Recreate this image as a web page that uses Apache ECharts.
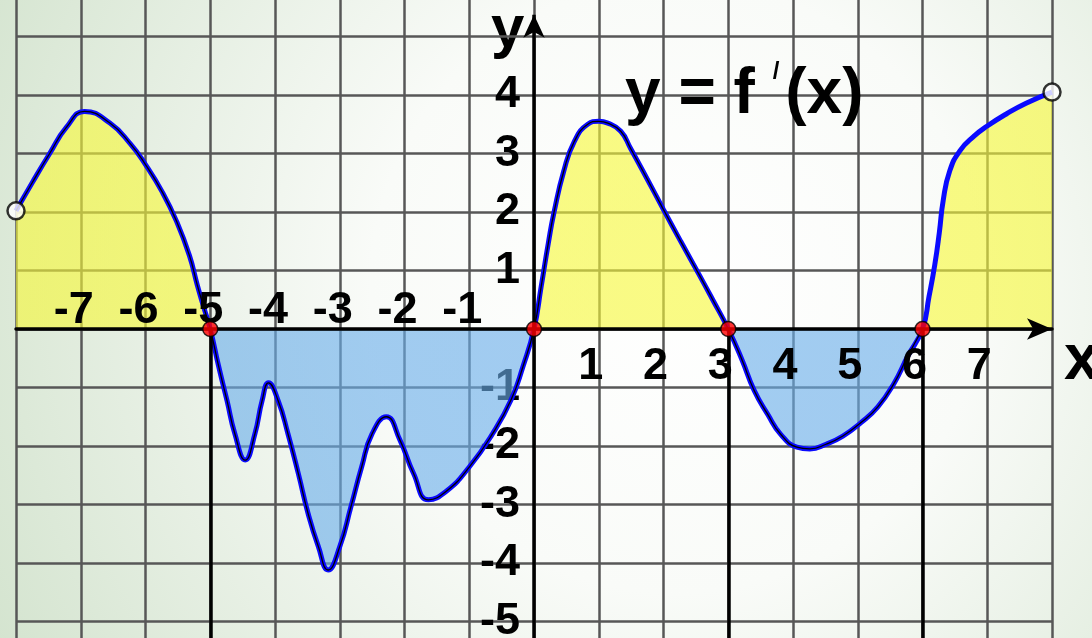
<!DOCTYPE html>
<html>
<head>
<meta charset="utf-8" />
<script type="text/javascript" src="https://cdn.jsdelivr.net/npm/echarts@6.0.0/dist/echarts.min.js"></script>
<title></title>
<style>
  html, body { margin: 0; padding: 0; }
  #main { width: 1092px; height: 638px; }
</style>
</head>
<body>
<div id="main"></div>
<script>
// curve y = f'(x)
var curveX = [-8, -7.75, -7.48, -7.22, -6.94, -6.55, -6.23, -6.0, -5.74, -5.52, -5.32, -5.2, -5.1, -5,
  -4.87, -4.74, -4.62, -4.46, -4.31, -4.2, -4.1, -3.95, -3.8, -3.64, -3.49, -3.33, -3.18, -3.0,
  -2.83, -2.66, -2.5, -2.28, -2.07, -1.86, -1.63, -1.35, -1.0, -0.64, -0.35, -0.17, 0,
  0.11, 0.22, 0.31, 0.46, 0.62, 0.83, 1.0, 1.14, 1.34, 1.49, 1.75, 2.0, 2.27, 2.55, 2.76, 3,
  3.21, 3.4, 3.61, 3.81, 4.06, 4.26, 4.51, 4.77, 5.05, 5.31, 5.56, 5.77, 6,
  6.1, 6.19, 6.26, 6.32, 6.42, 6.58, 6.8, 7.0, 7.3, 7.6, 8];
var curveY = [2.02, 2.5, 3.0, 3.45, 3.72, 3.52, 3.16, 2.81, 2.34, 1.84, 1.25, 0.75, 0.37, 0,
  -0.64, -1.23, -1.79, -2.24, -1.79, -1.23, -0.92, -1.23, -1.79, -2.47, -3.15, -3.72, -4.12, -3.72,
  -3.05, -2.35, -1.79, -1.5, -1.9, -2.47, -2.92, -2.77, -2.36, -1.79, -1.2, -0.64, 0,
  0.72, 1.46, 2.0, 2.7, 3.2, 3.5, 3.55, 3.52, 3.38, 3.09, 2.56, 2.04, 1.49, 0.93, 0.5, 0,
  -0.52, -1.05, -1.46, -1.8, -2.02, -2.05, -1.97, -1.83, -1.6, -1.33, -0.93, -0.47, 0,
  0.55, 1.1, 1.65, 2.2, 2.7, 3.05, 3.3, 3.47, 3.68, 3.86, 4.05];

// zeros of f'(x) (red points) and open end points
var zeroX = [-5, 0, 3, 6];
var zeroY = [0, 0, 0, 0];
var openX = [-8, 8];
var openY = [2.02, 4.05];

// black drop lines below the axis
var dropX = [-5, 3, 6];

// tick labels
var xNegTicks = [-7, -6, -5, -4, -3, -2, -1];
var xPosTicks = [1, 2, 3, 4, 5, 6, 7];
var yTicks = [-5, -4, -3, -2, -1, 1, 2, 3, 4];

var FONT = '"Liberation Sans", Arial, sans-serif';
var SM = 0.5;
var YELLOW = '#f6f83a';
var BLUE = '#6aaeea';

var pts = curveX.map(function (x, i) { return [x, curveY[i]]; });
var cut = curveX.indexOf(6);

var drops = dropX.map(function (x) { return [{ coord: [x, 0] }, { coord: [x, -6] }]; });
drops.push([{ coord: [0, -6], symbol: 'none' }, { coord: [0, 5.37], symbol: 'arrow', symbolSize: [16, 23] }]);

var labelStyle = { fontSize: 45, fontWeight: 'bold', fontFamily: FONT, color: '#000' };

var chart = echarts.init(document.getElementById('main'));
chart.setOption({
  animation: false,
  backgroundColor: {
    type: 'radial', x: 0.62, y: 0.45, r: 1.2,
    colorStops: [
      { offset: 0, color: '#ffffff' },
      { offset: 0.4, color: '#f9fbf8' },
      { offset: 1, color: '#d4e4cf' }
    ]
  },
  title: {
    text: '{a|y = f }{b|/}{a|(x)}',
    left: 625, top: 60, padding: 0,
    textStyle: {
      rich: {
        a: { fontSize: 64, fontWeight: 'bold', fontFamily: FONT, color: '#000', lineHeight: 70 },
        b: { fontSize: 24, fontFamily: FONT, color: '#000', verticalAlign: 'top', lineHeight: 50, padding: [0, 6, 0, 0] }
      }
    }
  },
  grid: { left: 16, right: 40, top: -22, bottom: -42, outerBoundsMode: 'none' },
  xAxis: [
    {
      type: 'value', min: -8, max: 8, interval: 1,
      axisLine: { show: false, onZero: false }, axisTick: { show: false }, axisLabel: { show: false },
      splitLine: { show: true, lineStyle: { color: '#575757', width: 2.5 } }
    },
    {
      type: 'value', min: -8, max: 8, interval: 1, position: 'bottom', z: 5,
      axisLine: { show: false, onZero: false }, axisTick: { show: false }, splitLine: { show: false },
      axisLabel: Object.assign({
        inside: true, margin: -4, padding: [0, 14, 0, 0],
        formatter: function (v) { return xNegTicks.indexOf(v) >= 0 ? String(v) : ''; }
      }, labelStyle)
    },
    {
      type: 'value', min: -8, max: 8, interval: 1, position: 'bottom', z: 5,
      axisLine: { show: true, onZero: false, symbol: ['none', 'arrow'], symbolSize: [16, 25],
        lineStyle: { color: '#000', width: 3.5 } },
      axisTick: { show: false }, splitLine: { show: false },
      axisLabel: Object.assign({
        margin: 15, padding: [0, 16, 0, 0],
        formatter: function (v) { return xPosTicks.indexOf(v) >= 0 ? String(v) : ''; }
      }, labelStyle)
    }
  ],
  yAxis: {
    type: 'value', min: -6, max: 6, interval: 1, position: 'left',
    axisLine: { show: false, onZero: false }, axisTick: { show: false },
    splitLine: { show: true, lineStyle: { color: '#575757', width: 2.5 } },
    axisLabel: Object.assign({
      margin: 14,
      formatter: function (v) { return yTicks.indexOf(v) >= 0 ? String(v) : ''; }
    }, labelStyle)
  },
  series: [
    {
      id: 'fill', type: 'line', data: pts, smooth: SM, symbol: 'none', silent: true, z: 2,
      lineStyle: { width: 0, opacity: 0 },
      areaStyle: { opacity: 0.62, origin: 0, color: YELLOW }
    },
    {
      type: 'line', data: pts, smooth: SM, symbol: 'none', silent: true, z: 3,
      lineStyle: { color: '#0a0aff', width: 5 }
    },
    {
      type: 'line', data: pts.slice(0, cut + 1), smooth: SM, symbol: 'none', silent: true, z: 4,
      lineStyle: { color: '#000', width: 1.3 }
    },
    {
      type: 'scatter', z: 10, symbol: 'circle', symbolSize: 17, silent: true,
      data: openX.map(function (x, i) { return [x, openY[i]]; }),
      itemStyle: { color: '#fff', borderColor: '#000', borderWidth: 2.5 }
    },
    {
      type: 'scatter', z: 10, symbol: 'circle', symbolSize: 15, silent: true,
      data: zeroX.map(function (x, i) { return [x, zeroY[i]]; }),
      itemStyle: { color: '#ff0000', borderColor: '#000', borderWidth: 1.5 },
      markLine: {
        silent: true, symbol: ['none', 'none'], label: { show: false },
        lineStyle: { color: '#000', width: 3.5, type: 'solid' },
        data: drops
      }
    }
  ],
  graphic: [
    { type: 'text', left: 491, top: 0, style: { text: 'y', font: 'bold 60px ' + FONT, fill: '#000' } },
    { type: 'text', left: 1064, top: 329, style: { text: 'x', font: 'bold 64px ' + FONT, fill: '#000' } }
  ]
});

// move the label axes onto the zero lines and split the fill colour at y = 0
var x0 = chart.convertToPixel({ xAxisIndex: 0 }, 0);
var xL = chart.convertToPixel({ xAxisIndex: 0 }, -8);
var y0 = chart.convertToPixel({ yAxisIndex: 0 }, 0);
var yB = chart.convertToPixel({ yAxisIndex: 0 }, -6);
var h = chart.getHeight();
var k = y0 / h;
chart.setOption({
  xAxis: [{}, { offset: -(yB - y0) }, { offset: -(yB - y0) }],
  yAxis: { offset: -(x0 - xL) },
  series: [{
    id: 'fill',
    areaStyle: {
      color: {
        type: 'linear', global: true, x: 0, y: 0, x2: 0, y2: h,
        colorStops: [
          { offset: 0, color: YELLOW }, { offset: k, color: YELLOW },
          { offset: k, color: BLUE }, { offset: 1, color: BLUE }
        ]
      }
    }
  }]
});
</script>
</body>
</html>
